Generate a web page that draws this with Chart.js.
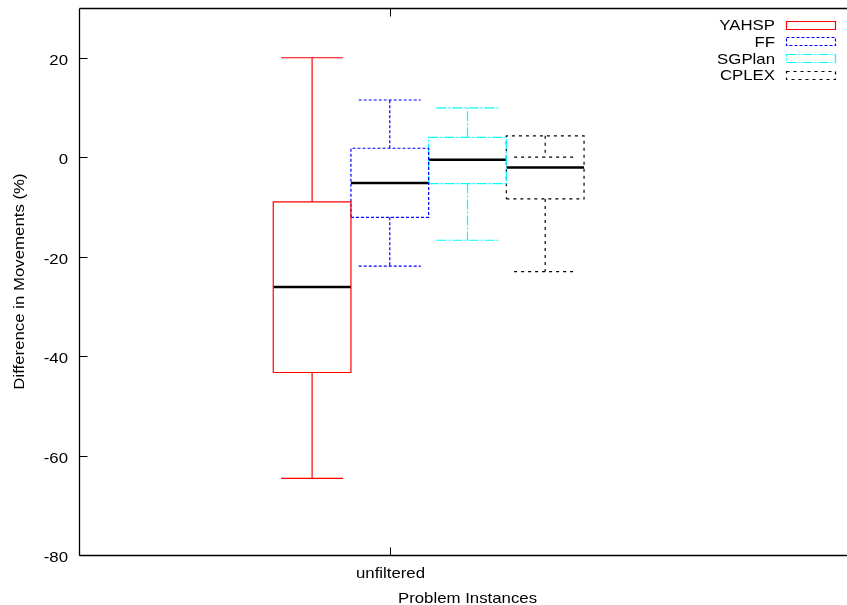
<!DOCTYPE html>
<html>
<head>
<meta charset="utf-8">
<script src="https://cdn.jsdelivr.net/npm/chart.js@4/dist/chart.umd.min.js"></script>
<style>
  html, body { margin: 0; padding: 0; background: #fff; overflow: hidden; }
  #view { width: 847px; height: 605px; overflow: hidden; position: relative; }
  #c { position: absolute; left: 0; top: 0; }
</style>
</head>
<body>
<div id="view"><canvas id="c" width="857" height="605"></canvas></div>
<script>
// Box-plot summary per planner (difference in movements, %)
const categories   = ['unfiltered'];
const seriesNames  = ['YAHSP', 'FF', 'SGPlan', 'CPLEX'];
const whiskerLow   = [-64.6, -21.9, -16.7, -23.0];
const quartile1    = [-43.3, -12.1, -5.3, -8.4];
const medians      = [-26.1, -5.2, -0.5, -2.1];
const quartile3    = [-9.0, 1.8, 4.0, 4.3];
const whiskerHigh  = [20.0, 11.5, 9.9, 0.0];
const yTicks       = [-80, -60, -40, -20, 0, 20];

// Styling
const colors  = ['#ff0000', '#0000ff', '#00ffff', '#000000'];
const dashes  = [[], [3, 2], [10, 2, 2, 2], [3, 4]];
const FONT    = '15px "Liberation Sans", Arial, sans-serif';
const STRETCH = 1.12;

const categoryX = 1;          // x position of the single category
const boxWidth  = 0.25;
const capHalf   = 0.1;

function centerOf(i) { return categoryX - boxWidth + i * boxWidth; }

function outlinePoints(i) {
  const c = centerOf(i), l = c - boxWidth / 2, r = c + boxWidth / 2;
  const gap = { x: c, y: null };
  return [
    { x: l, y: quartile1[i] }, { x: r, y: quartile1[i] },
    { x: r, y: quartile3[i] }, { x: l, y: quartile3[i] },
    { x: l, y: quartile1[i] }, gap,
    { x: c, y: quartile3[i] }, { x: c, y: whiskerHigh[i] }, gap,
    { x: c - capHalf, y: whiskerHigh[i] }, { x: c + capHalf, y: whiskerHigh[i] }, gap,
    { x: c, y: quartile1[i] }, { x: c, y: whiskerLow[i] }, gap,
    { x: c - capHalf, y: whiskerLow[i] }, { x: c + capHalf, y: whiskerLow[i] }
  ];
}

function medianPoints(i) {
  const c = centerOf(i);
  return [{ x: c - boxWidth / 2, y: medians[i] }, { x: c + boxWidth / 2, y: medians[i] }];
}

const datasets = [];
seriesNames.forEach((name, i) => {
  datasets.push({
    label: name,
    data: outlinePoints(i),
    borderColor: colors[i],
    borderWidth: 1.2,
    borderDash: dashes[i],
    pointRadius: 0,
    fill: false,
    spanGaps: false,
    tension: 0,
    showLine: true
  });
});
seriesNames.forEach((name, i) => {
  datasets.push({
    label: name + ' median',
    data: medianPoints(i),
    borderColor: '#000000',
    borderWidth: 2.5,
    pointRadius: 0,
    fill: false,
    showLine: true
  });
});

function stretchedText(ctx, text, x, y, align, rotate) {
  ctx.save();
  ctx.translate(x, y);
  if (rotate) ctx.rotate(-Math.PI / 2);
  ctx.scale(STRETCH, 1);
  ctx.font = FONT;
  ctx.fillStyle = '#000';
  ctx.textAlign = align;
  ctx.textBaseline = 'alphabetic';
  ctx.fillText(text, 0, 0);
  ctx.restore();
}

// Frame, ticks, axis labels and key drawn in gnuplot style
const framePlugin = {
  id: 'frame',
  afterDraw(chart) {
    const ctx = chart.ctx;
    const a = chart.chartArea;
    const xs = chart.scales.x, ys = chart.scales.y;
    const L = Math.round(a.left) + 0.5, T = Math.round(a.top) + 0.5;
    const R = Math.round(a.right) + 0.5, B = Math.round(a.bottom) + 0.5;

    ctx.save();
    ctx.strokeStyle = '#000';
    ctx.lineWidth = 1.3;
    ctx.setLineDash([]);
    ctx.beginPath();
    ctx.moveTo(L, T); ctx.lineTo(R, T);
    ctx.moveTo(L, T); ctx.lineTo(L, B);
    ctx.moveTo(L, B); ctx.lineTo(R, B);
    ctx.stroke();

    // y ticks and labels
    ctx.lineWidth = 1;
    yTicks.forEach(v => {
      const py = Math.round(ys.getPixelForValue(v)) + 0.5;
      ctx.beginPath();
      ctx.moveTo(L, py); ctx.lineTo(L + 8, py);
      ctx.stroke();
      stretchedText(ctx, String(v), 68, py + 6, 'right', false);
    });

    // x ticks and category labels
    categories.forEach((cat, k) => {
      const px = Math.round(xs.getPixelForValue(categoryX + k)) + 0.5;
      ctx.beginPath();
      ctx.moveTo(px, B); ctx.lineTo(px, B - 8);
      ctx.moveTo(px, T); ctx.lineTo(px, T + 8);
      ctx.stroke();
      stretchedText(ctx, cat, px, 578, 'center', false);
    });

    // axis titles
    stretchedText(ctx, 'Problem Instances', (a.left + a.right) / 2, 603, 'center', false);
    stretchedText(ctx, 'Difference in Movements (%)', 23.5, (a.top + a.bottom) / 2, 'center', true);

    // key
    seriesNames.forEach((name, i) => {
      const rowY = 25 + 16.8 * i;
      stretchedText(ctx, name, 775, rowY + 5, 'right', false);
      const top = Math.round(rowY - 4.5) + 0.5;
      ctx.save();
      ctx.strokeStyle = colors[i];
      ctx.lineWidth = 1.2;
      ctx.setLineDash(dashes[i]);
      ctx.beginPath();
      ctx.rect(786.5, top, 49, 8);
      ctx.stroke();
      ctx.restore();
    });
    ctx.restore();
  }
};

new Chart(document.getElementById('c'), {
  type: 'line',
  data: { datasets },
  options: {
    responsive: false,
    animation: false,
    devicePixelRatio: 1,
    layout: { padding: { left: 79, top: 8, right: 1, bottom: 50 } },
    plugins: { legend: { display: false }, tooltip: { enabled: false } },
    scales: {
      x: { type: 'linear', display: false, min: 0, max: 2.5 },
      y: { type: 'linear', display: false, min: -80, max: 30 }
    }
  },
  plugins: [framePlugin]
});
</script>
</body>
</html>
